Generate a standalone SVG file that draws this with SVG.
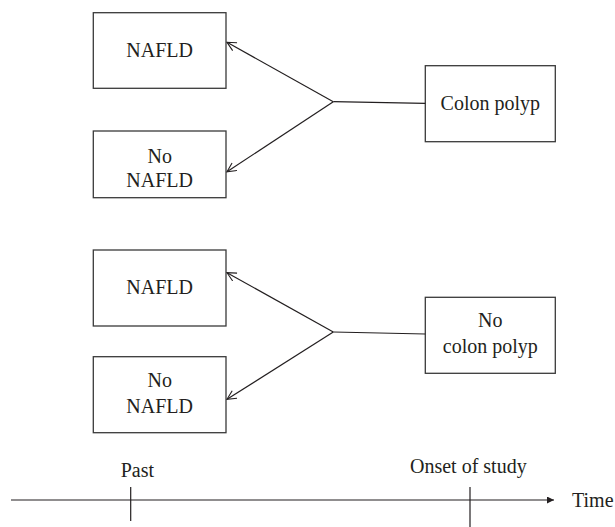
<svg xmlns="http://www.w3.org/2000/svg" width="615" height="527" viewBox="0 0 615 527">
<style>
.box{fill:#fff;stroke:#3a3a3a;stroke-width:1.3}
.lbl{font-family:"Liberation Serif","Times New Roman",serif;font-size:20px;fill:#231f20;text-anchor:middle}
.lbl2{font-family:"Liberation Serif","Times New Roman",serif;font-size:20px;fill:#231f20}
.con{stroke:#231f20;stroke-width:1.2;fill:none}
</style>
<defs>
<marker id="open" markerUnits="userSpaceOnUse" markerWidth="12" markerHeight="12" refX="10" refY="5" orient="auto">
<path d="M1,0.5 L10,5 L1,9.5" fill="none" stroke="#231f20" stroke-width="1.1"/>
</marker>
<marker id="solid" markerUnits="userSpaceOnUse" markerWidth="10" markerHeight="8" refX="7" refY="3.5" orient="auto">
<path d="M0,0 L7,3.5 L0,7 Z" fill="#231f20"/>
</marker>
</defs>
<g id="nafld1"><rect class="box" x="93.3" y="12.7" width="132.7" height="75.6"/><text class="lbl" x="159.7" y="57">NAFLD</text></g>
<g id="nonafld1"><rect class="box" x="93.3" y="131" width="132.7" height="66.7"/><text class="lbl" x="159.7" y="162.7">No</text><text class="lbl" x="159.7" y="186.7">NAFLD</text></g>
<g id="colonpolyp"><rect class="box" x="425.3" y="65.7" width="130" height="76"/><text class="lbl" x="490.3" y="110">Colon polyp</text></g>
<g id="nafld2"><rect class="box" x="93.3" y="250" width="132.7" height="76"/><text class="lbl" x="159.7" y="294">NAFLD</text></g>
<g id="nonafld2"><rect class="box" x="93.3" y="356.7" width="132.7" height="76"/><text class="lbl" x="159.7" y="387.3">No</text><text class="lbl" x="159.7" y="413.3">NAFLD</text></g>
<g id="nocolonpolyp"><rect class="box" x="425.3" y="297.3" width="130" height="76"/><text class="lbl" x="490.3" y="327.3">No</text><text class="lbl" x="490.3" y="353.3">colon polyp</text></g>
<g id="connectors">
<line class="con" x1="425.3" y1="103.3" x2="333.3" y2="101.7"/>
<line class="con" x1="333.3" y1="101.7" x2="227" y2="42.3" marker-end="url(#open)"/>
<line class="con" x1="333.3" y1="101.7" x2="227" y2="171.7" marker-end="url(#open)"/>
<line class="con" x1="425.3" y1="334" x2="333.3" y2="332"/>
<line class="con" x1="333.3" y1="332" x2="227" y2="272.7" marker-end="url(#open)"/>
<line class="con" x1="333.3" y1="332" x2="227" y2="399.3" marker-end="url(#open)"/>
</g>
<g id="timeline">
<line class="con" x1="11" y1="500" x2="554" y2="500" marker-end="url(#solid)"/>
<line class="con" x1="130.7" y1="487" x2="130.7" y2="521"/>
<line class="con" x1="470" y1="487" x2="470" y2="527"/>
<text class="lbl2" x="120.7" y="477">Past</text>
<text class="lbl2" x="410" y="473">Onset of study</text>
<text class="lbl2" x="572" y="507">Time</text>
</g>
</svg>
